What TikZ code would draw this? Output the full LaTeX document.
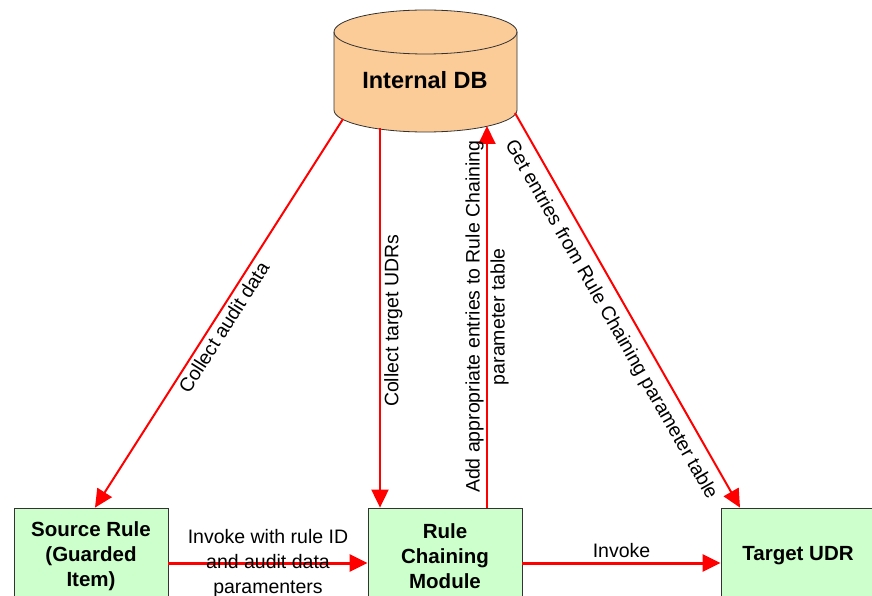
\documentclass[tikz,border=0pt]{standalone}
\usepackage{fontspec}
\setmainfont{Liberation Sans}
\usetikzlibrary{arrows.meta,positioning}
\definecolor{dbfill}{RGB}{251,203,152}
\definecolor{boxfill}{RGB}{204,255,204}
\definecolor{flowred}{RGB}{255,0,0}
\tikzstyle{module}=[draw=black!80,fill=boxfill,line width=0.8pt,minimum width=154pt,minimum height=96pt,align=center,font=\fontsize{20.5}{25}\selectfont\bfseries]
\tikzstyle{flow}=[color=flowred,line width=2pt,-{Triangle[length=18pt,width=17pt]}]
\tikzstyle{lbl}=[font=\fontsize{19.5}{25}\selectfont,text=black]

\begin{document}
\begin{tikzpicture}[x=1pt,y=1pt]
\useasboundingbox (0,0) rectangle (872,-596);
\clip (0,0) rectangle (872,-596);
% internal database
\filldraw[fill=dbfill,draw=black!80,line width=0.8pt] (334,-32) -- (334,-110)
  arc[start angle=180,end angle=360,x radius=91.5,y radius=22] -- (517,-32)
  arc[start angle=0,end angle=180,x radius=91.5,y radius=22] -- cycle;
\draw[black!80,line width=0.8pt] (334,-32) arc[start angle=180,end angle=360,x radius=91.5,y radius=22];
\node[font=\fontsize{23.5}{28}\selectfont\bfseries] (db) at (425,-80) {Internal DB};
\coordinate (db-sw) at (343,-119);
\coordinate (db-s1) at (380,-128);
\coordinate (db-s2) at (487,-126);
\coordinate (db-se) at (515,-113);
% modules
\node[module] (src) at (91,-556) {Source Rule\\(Guarded\\Item)};
\node[module] (rcm) at (445,-556) {Rule\\Chaining\\Module};
\node[module] (udr) at (798,-556) {Target UDR};
\path[flow]
(db-sw) edge node[lbl,sloped,below,pos=0.52] {Collect audit data} ([xshift=4pt]src.north)
(db-s1) edge node[lbl,rotate=90,below=3pt] {Collect target UDRs} ([xshift=-65pt]rcm.north)
([xshift=42pt]rcm.north) edge node[lbl,rotate=90,align=center] {Add appropriate entries to Rule Chaining\\parameter table} (db-s2)
(db-se) edge node[lbl,sloped,below=6pt,pos=0.5] {Get entries from Rule Chaining parameter table} ([xshift=-58pt]udr.north);
%(horizontal invokes)
\path[flow,line width=3pt]
([yshift=-7pt]src.east) edge node[lbl,align=center] {Invoke with rule ID\\and audit data\\paramenters} ([yshift=-7pt]rcm.west)
([yshift=-7pt]rcm.east) edge node[lbl,above] {Invoke} ([yshift=-7pt]udr.west);
\end{tikzpicture}
\end{document}
